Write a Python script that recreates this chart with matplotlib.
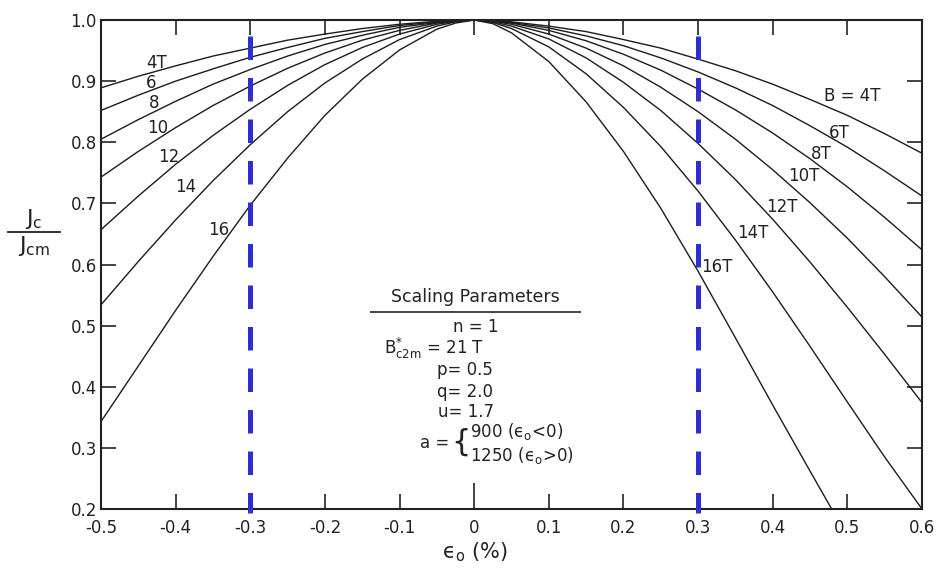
import numpy as np
import matplotlib
matplotlib.use('Agg')
import matplotlib.pyplot as plt

plt.rcParams['font.family'] = ['DejaVu Sans']
plt.rcParams['axes.unicode_minus'] = False

# strain grid (%) and Jc/Jcm
strain = [-0.5, -0.45, -0.4, -0.35, -0.3, -0.25, -0.2, -0.15, -0.1, -0.05, -0.025, 0,
          0.025, 0.05, 0.1, 0.15, 0.2, 0.25, 0.3, 0.35, 0.4, 0.45, 0.5, 0.55, 0.6]
jc_4t = [0.889, 0.908, 0.925, 0.941, 0.954, 0.967, 0.977, 0.986, 0.993, 0.998, 0.999, 1.0,
         0.999, 0.997, 0.990, 0.981, 0.968, 0.954, 0.936, 0.917, 0.895, 0.870, 0.844, 0.814, 0.782]
jc_6t = [0.852, 0.877, 0.900, 0.920, 0.939, 0.955, 0.970, 0.981, 0.991, 0.997, 0.999, 1.0,
         0.999, 0.996, 0.987, 0.974, 0.958, 0.938, 0.915, 0.889, 0.860, 0.827, 0.792, 0.753, 0.712]
jc_8t = [0.805, 0.837, 0.867, 0.895, 0.919, 0.941, 0.960, 0.975, 0.988, 0.996, 0.999, 1.0,
         0.998, 0.995, 0.983, 0.966, 0.944, 0.918, 0.887, 0.853, 0.815, 0.773, 0.727, 0.677, 0.624]
jc_10t = [0.743, 0.785, 0.824, 0.860, 0.892, 0.921, 0.946, 0.967, 0.983, 0.995, 0.998, 1.0,
          0.998, 0.993, 0.977, 0.954, 0.925, 0.890, 0.850, 0.805, 0.755, 0.701, 0.643, 0.580, 0.514]
jc_12t = [0.657, 0.712, 0.764, 0.811, 0.854, 0.893, 0.927, 0.955, 0.977, 0.993, 0.998, 1.0,
          0.997, 0.990, 0.969, 0.938, 0.898, 0.852, 0.798, 0.739, 0.674, 0.604, 0.530, 0.453, 0.374]
jc_14t = [0.534, 0.605, 0.673, 0.737, 0.796, 0.850, 0.897, 0.936, 0.968, 0.990, 0.997, 1.0,
          0.996, 0.986, 0.956, 0.912, 0.857, 0.793, 0.720, 0.640, 0.555, 0.466, 0.375, 0.285, 0.200]
# 16 T runs off the bottom of the axes near 0.48 %
strain_16t = [-0.5, -0.45, -0.4, -0.35, -0.3, -0.25, -0.2, -0.15, -0.1, -0.05, -0.025, 0,
              0.025, 0.05, 0.1, 0.15, 0.2, 0.25, 0.3, 0.35, 0.4, 0.45, 0.479]
jc_16t = [0.343, 0.434, 0.525, 0.613, 0.697, 0.774, 0.844, 0.903, 0.951, 0.985, 0.995, 1.0,
          0.994, 0.979, 0.932, 0.866, 0.785, 0.692, 0.589, 0.480, 0.370, 0.262, 0.200]

marker_strain = [-0.3, 0.3]

x_ticks = [-0.5, -0.4, -0.3, -0.2, -0.1, 0, 0.1, 0.2, 0.3, 0.4, 0.5, 0.6]
x_ticklabels = ['-0.5', '-0.4', '-0.3', '-0.2', '-0.1', '0', '0.1', '0.2', '0.3', '0.4', '0.5', '0.6']
y_ticks = [0.2, 0.3, 0.4, 0.5, 0.6, 0.7, 0.8, 0.9, 1.0]
y_ticklabels = ['0.2', '0.3', '0.4', '0.5', '0.6', '0.7', '0.8', '0.9', '1.0']

left_labels = ['4T', '6', '8', '10', '12', '14', '16']
left_label_x = [-0.426, -0.433, -0.429, -0.424, -0.409, -0.386, -0.342]
left_label_y = [0.930, 0.897, 0.864, 0.823, 0.776, 0.727, 0.657]
right_labels = ['B = 4T', '6T', '8T', '10T', '12T', '14T', '16T']
right_label_x = [0.506, 0.489, 0.465, 0.442, 0.412, 0.373, 0.325]
right_label_y = [0.876, 0.815, 0.781, 0.745, 0.694, 0.651, 0.596]

W, H = 941, 577
fig = plt.figure(figsize=(W / 100, H / 100), dpi=100)
ax = fig.add_axes([101 / W, 1 - 509 / H, 821 / W, 489 / H])

curve_col = '#1c1c1c'
for vals in [jc_4t, jc_6t, jc_8t, jc_10t, jc_12t, jc_14t]:
    ax.plot(strain, vals, color=curve_col, lw=1.0)
ax.plot(strain_16t, jc_16t, color=curve_col, lw=1.0)

for xv in marker_strain:
    ax.plot([xv, xv], [0.974, 0.194], color='#2f2fcf', lw=3.6,
            linestyle=(0, (4.7, 3.6)), clip_on=False, zorder=5)

ax.set_xlim(-0.5, 0.6)
ax.set_ylim(0.2, 1.0)
ax.set_xticks(x_ticks)
ax.set_xticklabels(x_ticklabels)
ax.set_yticks(y_ticks)
ax.set_yticklabels(y_ticklabels)
ax.tick_params(direction='in', length=11, width=1.2, top=True, right=True,
               labelsize=12, colors='#222222')
ax.tick_params(axis='x', pad=7)
ax.tick_params(axis='y', pad=3)
ax.xaxis.get_major_ticks()[5].tick1line.set_markersize(19)
for sp in ax.spines.values():
    sp.set_linewidth(1.5)
    sp.set_color('#222222')

for t, xv, yv in zip(left_labels, left_label_x, left_label_y):
    ax.text(xv, yv, t, fontsize=12, ha='center', va='center', color='#222222')
for t, xv, yv in zip(right_labels, right_label_x, right_label_y):
    ax.text(xv, yv, t, fontsize=12, ha='center', va='center', color='#222222')

# scaling parameters box
ax.text(0.001, 0.547, 'Scaling Parameters', fontsize=12.5, ha='center', va='center', color='#222222')
ax.hlines(0.522, -0.140, 0.143, color='#222222', lw=1.2)
ax.text(-0.028, 0.498, 'n = 1', fontsize=12, ha='left', va='center', color='#222222')
ax.text(-0.121, 0.463, r'$\mathregular{B^{*}_{c2m}}$ = 21 T', fontsize=12, ha='left', va='center', color='#222222')
ax.text(-0.050, 0.427, 'p= 0.5', fontsize=12, ha='left', va='center', color='#222222')
ax.text(-0.050, 0.391, 'q= 2.0', fontsize=12, ha='left', va='center', color='#222222')
ax.text(-0.049, 0.358, 'u= 1.7', fontsize=12, ha='left', va='center', color='#222222')
ax.text(-0.033, 0.308, 'a =', fontsize=12, ha='right', va='center', color='#222222')
ax.text(-0.018, 0.309, '{', fontsize=22, ha='center', va='center', color='#222222')
ax.text(-0.006, 0.326, 'ϵ'.join(['900 (', r'$_\mathregular{o}$<0)']), fontsize=12,
        ha='left', va='center', color='#222222')
ax.text(-0.006, 0.288, 'ϵ'.join(['1250 (', r'$_\mathregular{o}$>0)']), fontsize=12,
        ha='left', va='center', color='#222222')

# axis labels
fig.text(475 / W, 1 - 552 / H, r'ϵ$_\mathregular{o}$ (%)', fontsize=15, ha='center', va='center', color='#222222')
fig.text(34 / W, 1 - 219 / H, r'$\mathregular{J_c}$', fontsize=16, ha='center', va='center', color='#222222')
fig.text(34 / W, 1 - 246 / H, r'$\mathregular{J_{cm}}$', fontsize=16, ha='center', va='center', color='#222222')
fig.add_artist(plt.Line2D([8 / W, 60 / W], [1 - 232 / H, 1 - 232 / H], color='#222222', lw=1.3))

fig.savefig('out.png', dpi=100)
